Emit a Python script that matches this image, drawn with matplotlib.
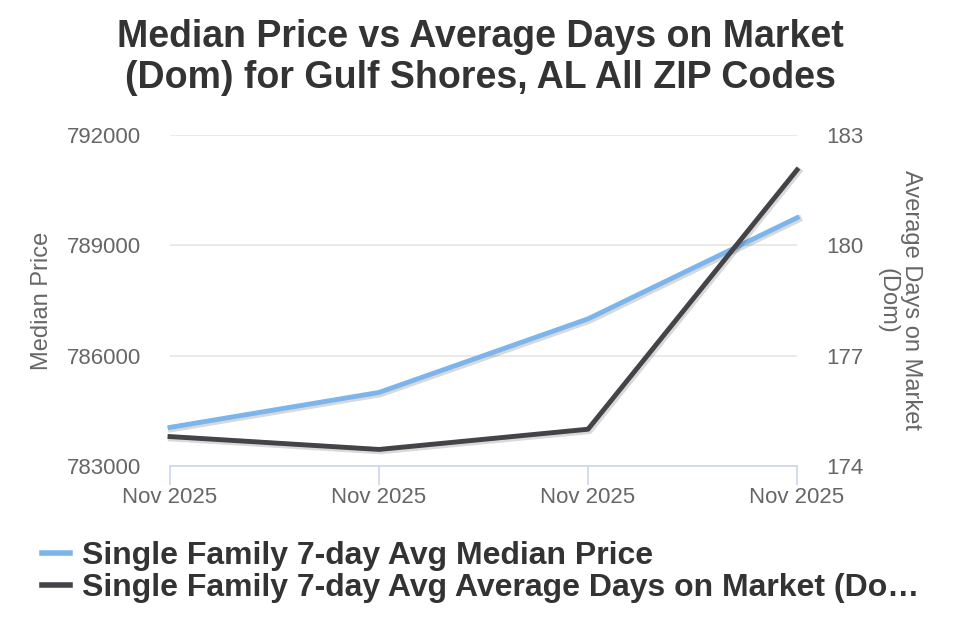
import matplotlib
matplotlib.use("Agg")
import matplotlib.pyplot as plt
import matplotlib.patheffects as pe

plt.rcParams['font.family'] = ['Liberation Sans', 'DejaVu Sans']

categories = ["Nov 2025", "Nov 2025", "Nov 2025", "Nov 2025"]
median_price = [784050, 785000, 787000, 789750]
avg_dom = [174.8, 174.45, 175.0, 182.05]
left_ticks = [783000, 786000, 789000, 792000]
right_ticks = [174, 177, 180, 183]
series_names = ["Single Family 7-day Avg Median Price",
                "Single Family 7-day Avg Average Days on Market (Do\u2026"]

W, H = 960, 640
fig = plt.figure(figsize=(W / 100, H / 100), dpi=100)
ax = fig.add_axes([170 / W, 1 - 466 / H, (797 - 170) / W, (466 - 135) / H])
ax2 = ax.twinx()

x = list(range(len(categories)))
shadow = [pe.SimpleLineShadow(offset=(1, -1), shadow_color='black', alpha=0.15, linewidth=5),
          pe.Normal()]
l1, = ax.plot(x, median_price, color='#7cb5ec', lw=3.5, solid_joinstyle='round',
              path_effects=shadow, zorder=3, clip_on=False)
l2, = ax2.plot(x, avg_dom, color='#434348', lw=3.5, solid_joinstyle='round',
               path_effects=shadow, zorder=3, clip_on=False)

ax.set_xlim(0, 3)
ax.set_ylim(783000, 792000)
ax2.set_ylim(174, 183)
ax.set_yticks(left_ticks)
ax.set_yticklabels([str(v) for v in left_ticks])
ax2.set_yticks(right_ticks)
ax2.set_yticklabels([str(v) for v in right_ticks])
ax.set_xticks(x)
ax.set_xticklabels(categories)

for a in (ax, ax2):
    for s in a.spines.values():
        s.set_visible(False)
ax.spines['bottom'].set_visible(True)
ax.spines['bottom'].set_color('#ccd6eb')
ax.spines['bottom'].set_linewidth(1.2)

ax.grid(axis='y', color='#e6e6e6', lw=1.2)
ax.set_axisbelow(True)
ax.tick_params(axis='y', length=0, labelsize=16, labelcolor='#666666', pad=21)
ax2.tick_params(axis='y', length=0, labelsize=16, labelcolor='#666666', pad=21)
ax.tick_params(axis='x', length=14, width=1.2, color='#ccd6eb', labelsize=16,
               labelcolor='#666666', pad=1)

ax.set_ylabel("Median Price", fontsize=17, color='#666666', labelpad=10)
ax2.set_ylabel("Average Days on Market\n(Dom)", fontsize=17, color='#666666',
               rotation=270, labelpad=42, linespacing=1.1)

fig.text(0.5, 1 - 37 / H, "Median Price vs Average Days on Market", ha='center', va='center',
         fontsize=27, fontweight='bold', color='#333333')
fig.text(0.5, 1 - 78 / H, "(Dom) for Gulf Shores, AL All ZIP Codes", ha='center', va='center',
         fontsize=27, fontweight='bold', color='#333333')

leg = fig.legend([l1, l2], series_names, loc='upper left', bbox_to_anchor=(42 / W, 1 - 541 / H),
                 frameon=False, handlelength=0.875, handletextpad=0.375, labelspacing=0.07,
                 borderpad=0, borderaxespad=0,
                 prop={'size': 23, 'weight': 'bold'}, labelcolor='#333333')
for h in leg.legend_handles:
    h.set_path_effects([])
    h.set_linewidth(4)

fig.savefig("out.png", dpi=100)
